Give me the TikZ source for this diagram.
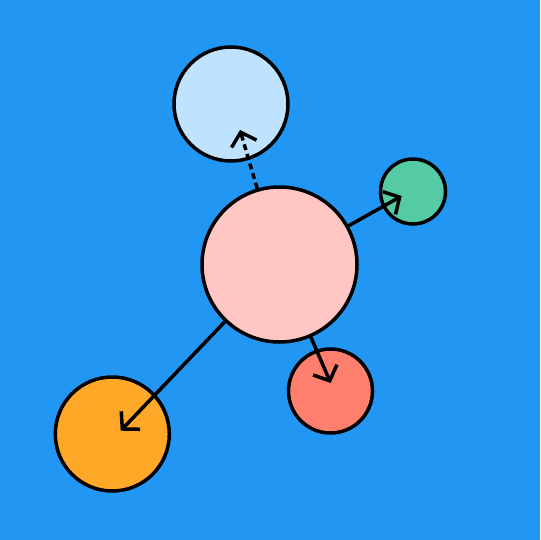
\documentclass[tikz,border=0pt]{standalone}
\usetikzlibrary{arrows.meta}
\definecolor{bgblue}{RGB}{33,150,243}
\definecolor{hubpink}{RGB}{255,198,194}
\definecolor{skyblue}{RGB}{191,227,255}
\definecolor{mint}{RGB}{85,203,165}
\definecolor{coral}{RGB}{255,127,110}
\definecolor{amber}{RGB}{255,167,38}
\begin{document}
\begin{tikzpicture}[x=1pt,y=-1pt]
        \tikzstyle{ball}=[circle, draw=black, line width=3.5pt, inner sep=0pt]
        \tikzstyle{link}=[black, line width=3.5pt, -{Straight Barb[length=12pt,width=26pt]}]
        \fill [bgblue] (0,0) rectangle (540,540);
        \draw (279.5,264.5) node [ball, fill=hubpink, minimum size=155pt] (hub) {};
        \draw (231,104) node [ball, fill=skyblue, minimum size=114pt] (top) {};
        \draw (413,191.5) node [ball, fill=mint, minimum size=65pt] (green) {};
        \draw (330.5,391) node [ball, fill=coral, minimum size=84pt] (red) {};
        \draw (112.3,434) node [ball, fill=amber, minimum size=114pt] (orange) {};
        \coordinate (tipTop) at (240,130);
        \coordinate (tipGreen) at (401.7,196);
        \coordinate (tipRed) at (330.7,383);
        \coordinate (tipOrange) at (120.7,430.7);
        \draw [link, dash pattern=on 6pt off 4pt] (hub) -- (tipTop);
        \draw [link] (hub) -- (tipGreen);
        \draw [link] (hub) -- (tipRed);
        \draw [link] (hub) -- (tipOrange);
\end{tikzpicture}
\end{document}
